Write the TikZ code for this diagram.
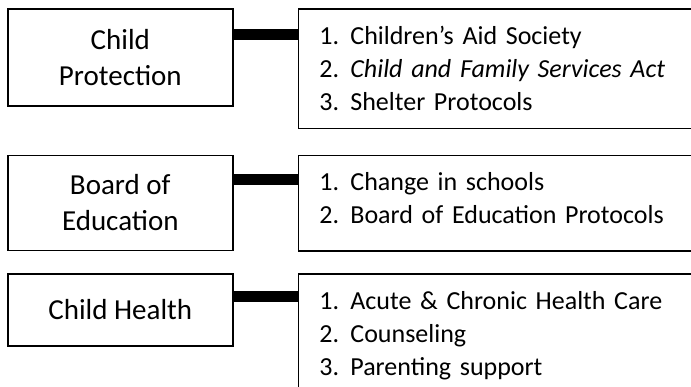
\documentclass[tikz,border=0pt]{standalone}
\usepackage{fontspec}
\setmainfont{Carlito}
\usetikzlibrary{positioning}

\newcommand{\listno}[2]{\makebox[15.5pt][l]{#1.}#2}

\begin{document}
\begin{tikzpicture}[
  line width=0.8pt,
  area/.style={
    rectangle,
    draw,
    align=center,
    minimum width=112.5pt,
    font=\fontsize{14.5}{18}\selectfont
  },
  detail/.style={
    rectangle,
    draw,
    align=left,
    anchor=north west,
    text width=181pt,
    inner xsep=10.5pt,
    inner ysep=3pt,
    text height=14.75pt,
    font=\fontsize{13}{16.5}\selectfont
  },
  link/.style={line width=5.5pt}
]
\useasboundingbox (0,0) rectangle (345.5pt,-193pt);
\clip (0,0) rectangle (345.5pt,-193pt);

% Service areas
\node[area, minimum height=48.5pt, anchor=north west] (prot) at (3.5pt,-4pt) {Child\\Protection};
\node[area, minimum height=47.5pt, below=24pt of prot] (educ) {Board of\\Education};
\node[area, minimum height=36pt, below=11pt of educ] (health) {Child Health};

% Details
\node[detail, text depth=39pt, right=32pt of prot.north east, anchor=north west] (protlist) {%
\listno{1}{Children’s Aid Society}\\
\listno{2}{\textit{Child and Family Services Act}}\\
\listno{3}{Shelter Protocols}};
\node[detail, text depth=27pt, right=32pt of educ.north east, anchor=north west] (educlist) {%
\listno{1}{Change in schools}\\
\listno{2}{Board of Education Protocols}};
\node[detail, text depth=39pt, right=32pt of health.north east, anchor=north west] (healthlist) {%
\listno{1}{Acute \& Chronic Health Care}\\
\listno{2}{Counseling}\\
\listno{3}{Parenting support}};

% Links
\draw[link] ([yshift=-13pt]prot.north east) -- ([yshift=-13pt]protlist.north west);
\draw[link] ([yshift=-12.25pt]educ.north east) -- ([yshift=-12.25pt]educlist.north west);
\draw[link] ([yshift=-11.75pt]health.north east) -- ([yshift=-11.75pt]healthlist.north west);

\end{tikzpicture}
\end{document}
